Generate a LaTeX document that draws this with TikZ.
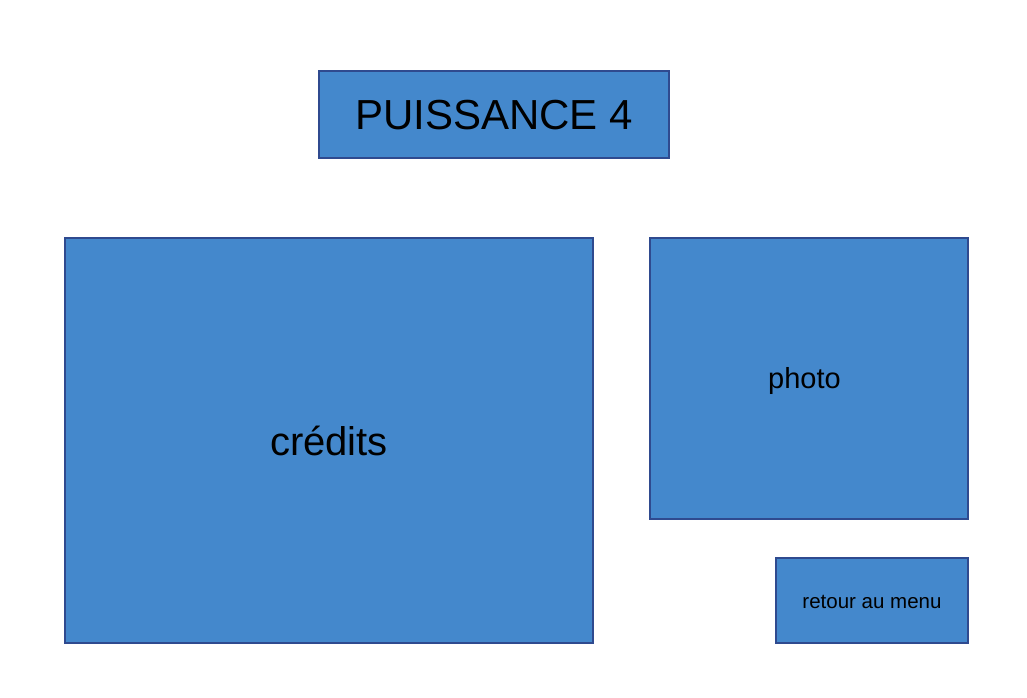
\documentclass[tikz,border=0pt]{standalone}
\usepackage{fontspec}
\setmainfont{Liberation Sans}
\definecolor{boxfill}{HTML}{4488CC}
\definecolor{boxline}{HTML}{2F4A8F}
\begin{document}
\begin{tikzpicture}[x=1pt,y=-1pt,
  panel/.style={draw=boxline,fill=boxfill,line width=1.3pt,inner sep=0pt,text=black}]
\useasboundingbox (0,0) rectangle (1027,697);
\node[panel,minimum width=350pt,minimum height=87pt] (title) at (494,114.5) {};
\node[font=\fontsize{42}{50}\selectfont,inner sep=0pt] (titletext) at ([yshift=-1pt]title.center) {PUISSANCE 4};
\node[panel,minimum width=528pt,minimum height=405pt,font=\fontsize{40}{48}\selectfont] (credits) at (329,440.5) {crédits};
\node[panel,minimum width=318pt,minimum height=281pt] (photo) at (809,378.5) {};
\node[font=\fontsize{29}{35}\selectfont,inner sep=0pt] (phototext) at ([xshift=-4.5pt,yshift=-2pt]photo.center) {photo};
\node[panel,minimum width=192pt,minimum height=85pt] (retour) at (872,600.5) {};
\node[font=\fontsize{20.5}{25}\selectfont,inner sep=0pt] (retourtext) at ([yshift=-1pt]retour.center) {retour au menu};
\end{tikzpicture}
\end{document}
